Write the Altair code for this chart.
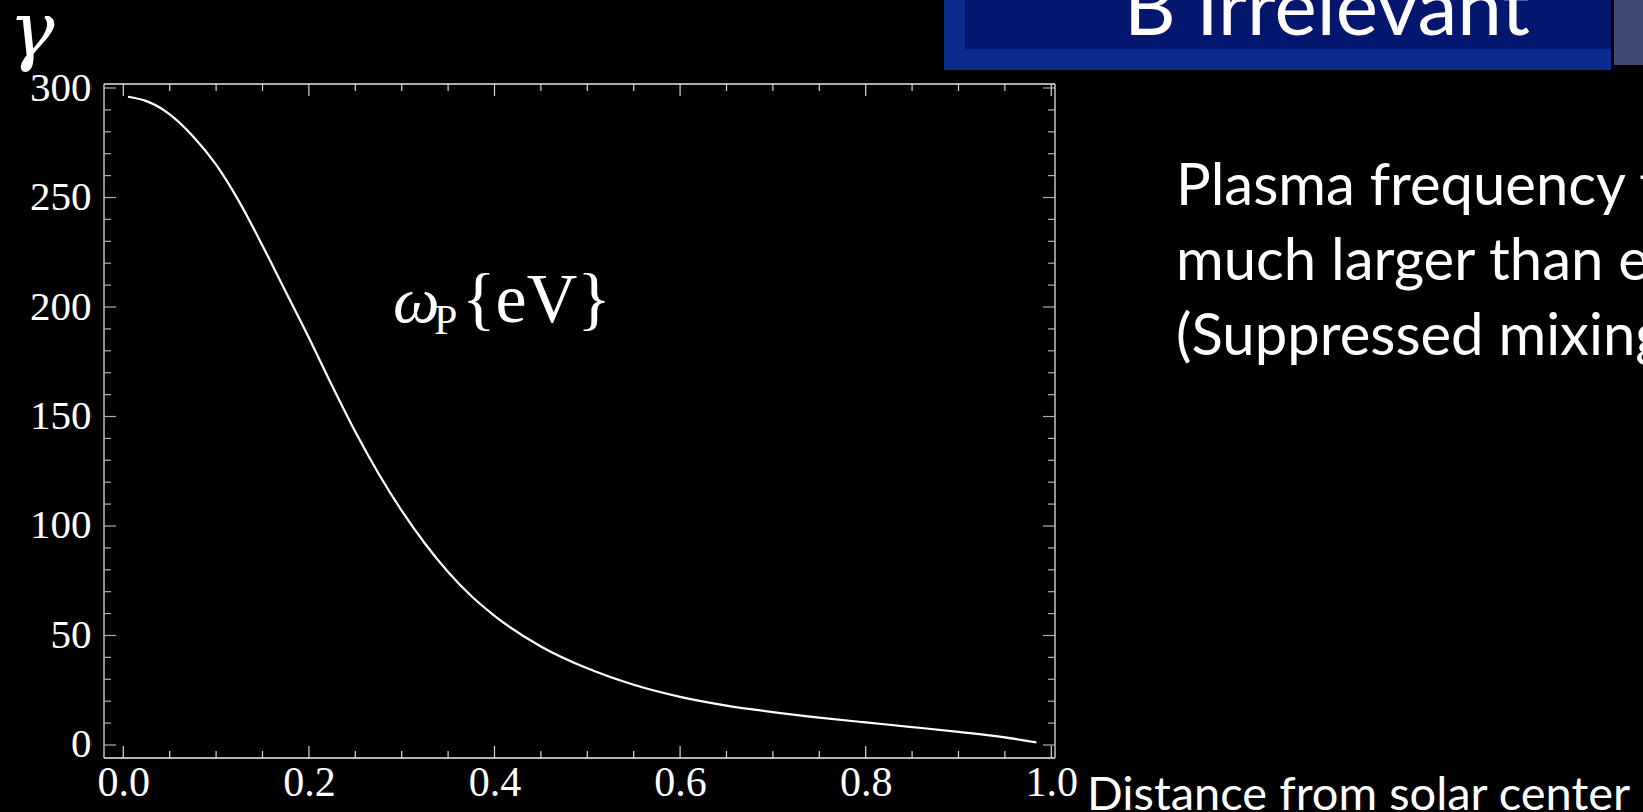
import altair as alt
import pandas as pd

# ---- data ----
radius = [0.005, 0.025, 0.05, 0.075, 0.1, 0.125, 0.15, 0.175, 0.2, 0.225, 0.25,
          0.275, 0.3, 0.325, 0.35, 0.375, 0.4, 0.45, 0.5, 0.55, 0.6, 0.65, 0.7,
          0.75, 0.8, 0.85, 0.9, 0.95, 0.984]
omega_p = [296, 294, 288, 278, 265, 248, 228, 207, 186, 164, 143,
           124, 107, 92, 79, 68, 59, 45, 35, 27.5, 22, 18, 15,
           12.5, 10.3, 8.2, 6.0, 3.5, 1.2]

x_major = [0.0, 0.2, 0.4, 0.6, 0.8, 1.0]
x_minor = [0.05, 0.1, 0.15, 0.25, 0.3, 0.35, 0.45, 0.5, 0.55, 0.65, 0.7, 0.75,
           0.85, 0.9, 0.95]
y_major = [0, 50, 100, 150, 200, 250, 300]
y_minor = [10, 20, 30, 40, 60, 70, 80, 90, 110, 120, 130, 140, 160, 170, 180,
           190, 210, 220, 230, 240, 260, 270, 280, 290]

curve_df = pd.DataFrame({"x": radius, "y": omega_p})
xmaj_df = pd.DataFrame({"x": x_major})
xmin_df = pd.DataFrame({"x": x_minor})
ymaj_df = pd.DataFrame({"y": y_major})
ymin_df = pd.DataFrame({"y": y_minor})
one = pd.DataFrame({"k": [0]})

W, H = 951, 674
LEFT, TOP = 104, 84

xs = alt.Scale(domain=[-0.0208, 1.004], nice=False, zero=False)
ys = alt.Scale(domain=[-5.94, 301.83], nice=False, zero=False)

SERIF = "Liberation Serif"
SANS = "Lato"

x_axis = alt.Axis(values=x_major, format=".1f", ticks=False, tickSize=0, domain=False,
                  grid=False, labelFont=SERIF, labelFontSize=42, labelColor="white",
                  labelPadding=4, labelFlush=False, labelOverlap=False, title=None)
y_axis = alt.Axis(values=y_major, format="d", ticks=False, tickSize=0, domain=False,
                  grid=False, labelFont=SERIF, labelFontSize=41, labelColor="white",
                  labelPadding=13, labelFlush=False, labelOverlap=False, title=None)

curve = alt.Chart(curve_df).mark_line(
    color="white", strokeWidth=2.2, interpolate="monotone"
).encode(
    x=alt.X("x:Q", scale=xs, axis=x_axis),
    y=alt.Y("y:Q", scale=ys, axis=y_axis),
)

XT = "#d8d8d8"
YT = "#b0b0b0"


def xticks(df, y0, y1):
    return alt.Chart(df).mark_rule(color=XT, strokeWidth=1.2).encode(
        x=alt.X("x:Q", scale=xs, axis=x_axis),
        y=alt.value(y0), y2=alt.value(y1))


def yticks(df, x0, x1):
    return alt.Chart(df).mark_rule(color=YT, strokeWidth=1.2).encode(
        y=alt.Y("y:Q", scale=ys, axis=y_axis),
        x=alt.value(x0), x2=alt.value(x1))


ticks = [
    xticks(xmaj_df, H, H - 12), xticks(xmin_df, H, H - 7),
    xticks(xmaj_df, 0, 12), xticks(xmin_df, 0, 7),
    yticks(ymaj_df, 0, 12), yticks(ymin_df, 0, 7),
    yticks(ymaj_df, W, W - 12), yticks(ymin_df, W, W - 7),
]


def frame_rule(x0, x1, y0, y1, color):
    return alt.Chart(one).mark_rule(color=color, strokeWidth=1.6).encode(
        x=alt.value(x0), x2=alt.value(x1), y=alt.value(y0), y2=alt.value(y1))


frame = [
    frame_rule(0, W, H, H, "#f0f0f0"),
    frame_rule(0, W, 0, 0, "#e8e8e8"),
    frame_rule(0, 0, 0, H, "#b8b8b8"),
    frame_rule(W, W, 0, H, "#b8b8b8"),
]


def box(x0, x1, y0, y1, color):
    return alt.Chart(one).mark_rect(color=color).encode(
        x=alt.value(x0 - LEFT), x2=alt.value(x1 - LEFT),
        y=alt.value(y0 - TOP), y2=alt.value(y1 - TOP))


boxes = [
    box(944, 1611, 0, 70, "#0a2c8e"),
    box(965, 1611, 0, 49, "#04166e"),
    box(1614, 1643, 0, 65, "#3e4976"),
]


def label(text, px, py, size, font, style="normal", align="left"):
    return alt.Chart(one).mark_text(
        text=text, font=font, fontSize=size, fontStyle=style, color="white",
        align=align, baseline="alphabetic"
    ).encode(x=alt.value(px - LEFT), y=alt.value(py - TOP))


texts = [
    label("γ", 9, 56, 76, "DejaVu Serif", "italic"),
    label("ω", 393, 322, 66, SERIF, "italic"),
    label("P", 434, 334, 42, SERIF),
    label("{eV}", 462, 322, 70, SERIF),
    label("B Irrelevant", 1124, 35, 80, SANS),
    label("Plasma frequency t", 1176, 205, 58, SANS),
    label("much larger than e", 1176, 280, 58, SANS),
    label("(Suppressed mixing", 1176, 355, 58, SANS),
    label("Distance from solar center", 1087, 810, 47, SANS),
]

chart = alt.layer(*boxes, *frame, *ticks, curve, *texts).properties(
    width=W, height=H,
    autosize=alt.AutoSizeParams(type="none"),
    padding={"left": LEFT, "top": TOP, "right": 1643 - LEFT - W, "bottom": 812 - TOP - H},
    background="black",
).configure_view(stroke=None)

chart.save("out.html", embed_options={"renderer": "svg", "actions": False})
